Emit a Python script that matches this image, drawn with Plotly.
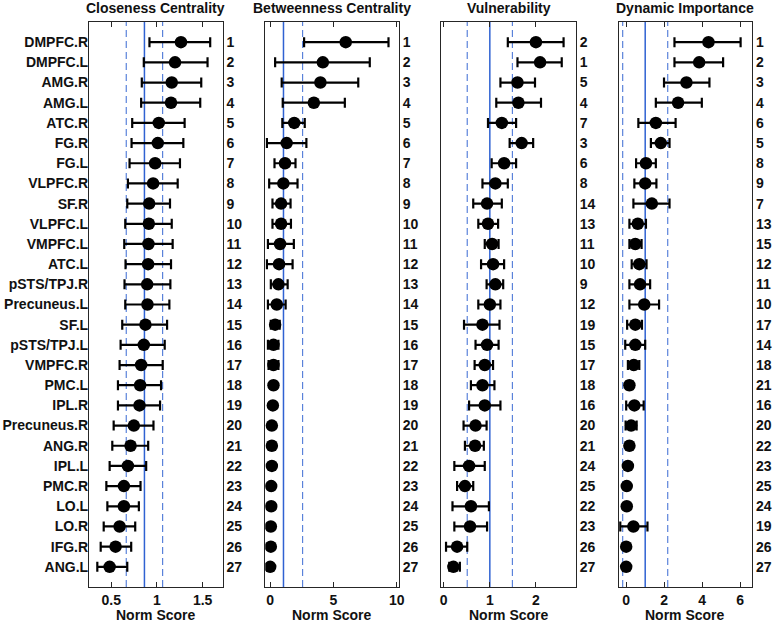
import plotly.graph_objects as go

regions = ["DMPFC.R", "DMPFC.L", "AMG.R", "AMG.L", "ATC.R", "FG.R", "FG.L", "VLPFC.R",
           "SF.R", "VLPFC.L", "VMPFC.L", "ATC.L", "pSTS/TPJ.R", "Precuneus.L", "SF.L",
           "pSTS/TPJ.L", "VMPFC.R", "PMC.L", "IPL.R", "Precuneus.R", "ANG.R", "IPL.L",
           "PMC.R", "LO.L", "LO.R", "IFG.R", "ANG.L"]
rows = list(range(1, 28))

panel_titles = ["Closeness Centrality", "Betweenness Centrality", "Vulnerability", "Dynamic Importance"]

# Closeness centrality
close_val = [1.263, 1.198, 1.162, 1.154, 1.020, 1.009, 0.980, 0.958, 0.915, 0.911, 0.907, 0.903, 0.893,
             0.896, 0.874, 0.856, 0.827, 0.816, 0.809, 0.747, 0.711, 0.682, 0.638, 0.638, 0.591, 0.547, 0.482]
close_lo = [0.918, 0.856, 0.834, 0.827, 0.729, 0.722, 0.700, 0.682, 0.675, 0.653, 0.642, 0.656, 0.645,
            0.653, 0.620, 0.602, 0.591, 0.573, 0.573, 0.526, 0.511, 0.482, 0.446, 0.457, 0.417, 0.384, 0.347]
close_hi = [1.583, 1.554, 1.485, 1.474, 1.303, 1.289, 1.252, 1.227, 1.143, 1.162, 1.172, 1.154, 1.147,
            1.136, 1.111, 1.085, 1.063, 1.045, 1.034, 0.962, 0.904, 0.882, 0.820, 0.802, 0.762, 0.718, 0.675]
close_rank = list(range(1, 28))

# Betweenness centrality
betw_val = [5.97, 4.16, 3.97, 3.45, 1.90, 1.30, 1.17, 1.04, 0.86, 0.86, 0.78, 0.70, 0.65, 0.52,
            0.39, 0.26, 0.26, 0.26, 0.21, 0.13, 0.13, 0.13, 0.08, 0.08, 0.05, 0.05, 0.00]
betw_lo = [2.68, 0.39, 0.91, 0.99, 0.96, -0.26, 0.34, -0.08, 0.18, 0.18, -0.18, -0.26, 0.05, -0.18,
           0.05, -0.18, -0.13, 0.10, 0.08, 0.03, 0.03, 0.05, 0.00, 0.00, 0.00, 0.00, -0.05]
betw_hi = [9.35, 7.87, 6.96, 5.90, 2.73, 2.86, 2.00, 2.16, 1.61, 1.64, 1.87, 1.77, 1.38, 1.22,
           0.75, 0.65, 0.65, 0.42, 0.34, 0.23, 0.23, 0.21, 0.16, 0.16, 0.10, 0.10, 0.05]
betw_rank = list(range(1, 28))

# Vulnerability
vuln_val = [2.00, 2.09, 1.60, 1.62, 1.26, 1.69, 1.31, 1.12, 0.94, 0.96, 1.05, 1.07, 1.12, 1.00,
            0.84, 0.94, 0.89, 0.84, 0.89, 0.69, 0.68, 0.55, 0.46, 0.59, 0.57, 0.29, 0.21]
vuln_lo = [1.39, 1.60, 1.23, 1.14, 0.96, 1.43, 1.04, 0.84, 0.64, 0.75, 0.89, 0.81, 0.93, 0.75,
           0.44, 0.69, 0.67, 0.59, 0.55, 0.43, 0.46, 0.23, 0.29, 0.19, 0.23, 0.05, 0.12]
vuln_hi = [2.60, 2.56, 1.98, 2.11, 1.57, 1.94, 1.57, 1.39, 1.26, 1.18, 1.19, 1.31, 1.29, 1.23,
           1.21, 1.19, 1.07, 1.10, 1.23, 0.93, 0.87, 0.89, 0.64, 0.98, 0.94, 0.51, 0.35]
vuln_rank = [2, 1, 5, 4, 7, 3, 6, 8, 14, 13, 11, 10, 9, 12, 19, 15, 17, 18, 16, 20, 21, 24, 25, 22, 23, 26, 27]

# Dynamic importance
dyn_val = [4.33, 3.84, 3.17, 2.73, 1.56, 1.82, 1.04, 1.00, 1.35, 0.61, 0.48, 0.69, 0.73, 0.95,
           0.48, 0.48, 0.40, 0.17, 0.43, 0.26, 0.17, 0.09, 0.03, 0.03, 0.38, 0.00, 0.00]
dyn_lo = [2.54, 2.54, 1.99, 1.56, 0.64, 1.30, 0.52, 0.43, 0.38, 0.17, 0.17, 0.29, 0.17, 0.17,
          0.05, -0.05, 0.09, 0.02, 0.00, -0.03, 0.05, 0.00, -0.03, -0.03, -0.31, -0.03, -0.03]
dyn_hi = [6.02, 5.10, 4.38, 3.98, 2.60, 2.28, 1.56, 1.59, 2.28, 1.04, 0.81, 1.07, 1.26, 1.73,
          0.83, 1.00, 0.69, 0.33, 0.92, 0.55, 0.30, 0.18, 0.09, 0.09, 1.12, 0.03, 0.03]
dyn_rank = [1, 2, 3, 4, 6, 5, 8, 9, 7, 13, 15, 12, 11, 10, 17, 14, 18, 21, 16, 20, 22, 23, 25, 24, 19, 26, 27]

# Reference lines (mean, and mean +/- SD)
ref_mean = [0.863, 1.05, 1.00, 1.00]
ref_sd = [0.199, 1.51, 0.49, 1.185]

x_ranges = [[0.257, 1.72], [-0.39, 10.17], [-0.05, 2.87], [-0.40, 6.63]]
x_ticks = [[0.5, 1, 1.5], [0, 5, 10], [0, 1, 2], [0, 2, 4, 6]]
x_ticktext = [["0.5", "1", "1.5"], ["0", "5", "10"], ["0", "1", "2"], ["0", "2", "4", "6"]]

panels = [
    (close_val, close_lo, close_hi, close_rank),
    (betw_val, betw_lo, betw_hi, betw_rank),
    (vuln_val, vuln_lo, vuln_hi, vuln_rank),
    (dyn_val, dyn_lo, dyn_hi, dyn_rank),
]

W, H = 777, 624
px_left = [88, 266, 444, 623]
px_right = [223, 401, 580, 758]
px_top, px_bot = 22, 587

FONT = "Liberation Sans, Arial, Helvetica, sans-serif"
AX = "#262626"
TXT = "#111111"

fig = go.Figure()
layout = dict(
    width=W, height=H, autosize=False,
    margin=dict(l=0, r=0, t=0, b=0),
    paper_bgcolor="white", plot_bgcolor="white",
    showlegend=False,
    font=dict(family=FONT, size=14, color=TXT),
)

annotations = []
shapes = []
ydom = [1 - px_bot / H, 1 - px_top / H]

for i, (val, lo, hi, rank) in enumerate(panels):
    n = i + 1
    xa = "x" if n == 1 else f"x{n}"
    ya = "y" if n == 1 else f"y{n}"
    plus = [h - v for h, v in zip(hi, val)]
    minus = [v - l for v, l in zip(val, lo)]
    fig.add_trace(go.Scatter(
        x=val, y=rows, mode="markers", xaxis=xa, yaxis=ya,
        marker=dict(color="black", size=12.5, line=dict(width=0)),
        error_x=dict(type="data", symmetric=False, array=plus, arrayminus=minus,
                     color="black", thickness=2.2, width=5),
        hoverinfo="skip",
    ))
    dom = [px_left[i] / W, px_right[i] / W]
    layout["xaxis" if n == 1 else f"xaxis{n}"] = dict(
        domain=dom, anchor=ya, range=x_ranges[i],
        tickvals=x_ticks[i], ticktext=x_ticktext[i],
        ticks="inside", ticklen=5, tickwidth=1, tickcolor=AX,
        showline=True, linecolor=AX, linewidth=1, mirror="ticks",
        showgrid=False, zeroline=False,
        tickfont=dict(family=FONT, size=14, color=TXT, weight="bold"),
    )
    layout["yaxis" if n == 1 else f"yaxis{n}"] = dict(
        domain=ydom, anchor=xa, range=[28, 0],
        tickvals=rows, ticktext=[str(r) for r in rank], side="right",
        ticks="", showline=True, linecolor=AX, linewidth=1, mirror=True,
        showgrid=False, zeroline=False,
        tickfont=dict(family=FONT, size=14, color=TXT, weight="bold"),
    )
    # reference lines
    m, s = ref_mean[i], ref_sd[i]
    shapes.append(dict(type="line", xref=xa, yref=f"{ya} domain", x0=m, x1=m, y0=0, y1=1,
                       line=dict(color="#2f62d2", width=1.5), layer="below"))
    for xv in (m - s, m + s):
        if x_ranges[i][0] < xv < x_ranges[i][1]:
            shapes.append(dict(type="line", xref=xa, yref=f"{ya} domain", x0=xv, x1=xv, y0=0, y1=1,
                               line=dict(color="#5a82da", width=1.2, dash="7px,4px"), layer="below"))
    # title
    cx = (px_left[i] + px_right[i]) / 2 / W
    annotations.append(dict(text="<b>%s</b>" % panel_titles[i], x=cx, y=1 - 8 / H,
                            xref="paper", yref="paper", xanchor="center", yanchor="middle",
                            showarrow=False, font=dict(family=FONT, size=14, color=TXT)))
    annotations.append(dict(text="<b>Norm Score</b>", x=cx, y=1 - 615 / H,
                            xref="paper", yref="paper", xanchor="center", yanchor="middle",
                            showarrow=False, font=dict(family=FONT, size=14, color=TXT)))

# region names on the left of the first panel (overlaying axis)
fig.add_trace(go.Scatter(x=close_val, y=rows, xaxis="x", yaxis="y5", mode="markers",
                         marker=dict(opacity=0), hoverinfo="skip"))
layout["yaxis5"] = dict(
    overlaying="y", side="left", anchor="x", range=[28, 0],
    tickvals=rows, ticktext=regions, ticks="", showline=False,
    showgrid=False, zeroline=False,
    tickfont=dict(family=FONT, size=14, color=TXT, weight="bold"),
)

layout["annotations"] = annotations
layout["shapes"] = shapes
fig.update_layout(**layout)
fig.write_html("out.html",
               config={"displayModeBar": False},
               post_script="document.body.style.margin='0';document.body.style.overflow='hidden';")
